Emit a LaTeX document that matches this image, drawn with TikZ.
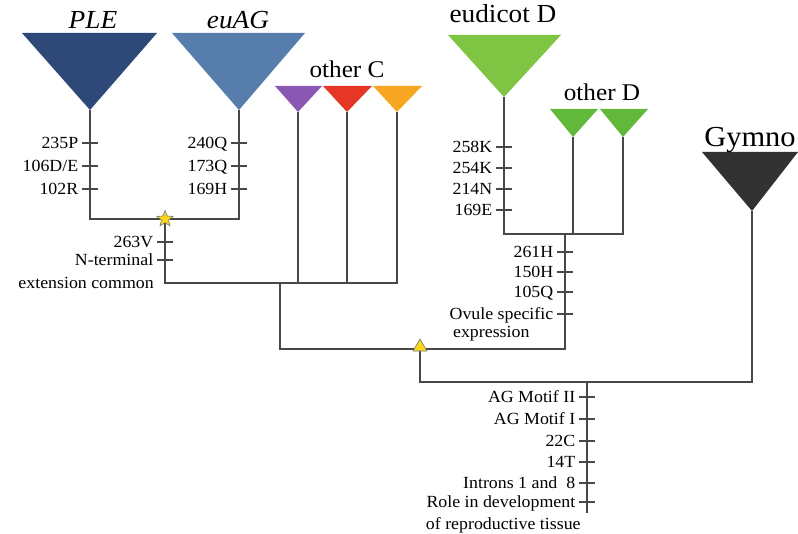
\documentclass[tikz,border=0pt]{standalone}
\usepackage{fontspec}
\setmainfont{Liberation Serif}[FakeStretch=1.05]
\usetikzlibrary{shapes.geometric}

\definecolor{plecol}{RGB}{46,72,120}
\definecolor{euagcol}{RGB}{86,125,172}
\definecolor{purplecol}{RGB}{138,88,178}
\definecolor{redcol}{RGB}{230,55,38}
\definecolor{orangecol}{RGB}{246,166,33}
\definecolor{eudcol}{RGB}{128,196,68}
\definecolor{odcol}{RGB}{98,184,58}
\definecolor{gymcol}{RGB}{50,50,50}
\definecolor{linegray}{RGB}{72,72,72}
\definecolor{markfill}{RGB}{250,215,30}

\begin{document}
\begin{tikzpicture}[x=1pt, y=-1pt,
  branch/.style={draw=linegray, line width=1.5pt, line join=miter},
  tick/.style={draw=linegray, line width=1.5pt},
  clade/.style={font=\fontsize{26}{28}\selectfont, anchor=base, inner sep=0pt},
  smallclade/.style={font=\fontsize{24}{26}\selectfont, anchor=base, inner sep=0pt},
  mut/.style={font=\fontsize{17}{19}\selectfont, anchor=east, inner xsep=3pt,
    inner ysep=0pt, text height=11pt, text depth=0pt},
  starmark/.style={star, star points=5, star point ratio=2.3, fill=markfill,
    draw=black!55, line width=0.6pt, inner sep=0pt, minimum size=17pt},
  trimark/.style={regular polygon, regular polygon sides=3, fill=markfill,
    draw=black!55, line width=0.6pt, inner sep=0pt, minimum size=16pt}
]
  \useasboundingbox (0,0) rectangle (798,534);

  % --- tips of the clades ---
  \coordinate (ple) at (90,110);
  \coordinate (euag) at (239,110);
  \coordinate (cpur) at (298,112);
  \coordinate (cred) at (347,112);
  \coordinate (corg) at (397,112);
  \coordinate (eud) at (504,97);
  \coordinate (odA) at (573,137);
  \coordinate (odB) at (623,137);
  \coordinate (gym) at (752,211);

  % --- joints ---
  \coordinate (jPE) at (165,219);
  \coordinate (jC) at (280,283);
  \coordinate (jD) at (565,234);
  \coordinate (jCD) at (420,349);
  \coordinate (jR) at (587,382);
  \coordinate (rootEnd) at (587,513);

  % --- clade triangles ---
  \fill[plecol] (22,33) -- (157,33) -- (ple) -- cycle;
  \fill[euagcol] (172,33) -- (305,33) -- (euag) -- cycle;
  \fill[purplecol] (275,86) -- (322,86) -- (cpur) -- cycle;
  \fill[redcol] (323,86) -- (372,86) -- (cred) -- cycle;
  \fill[orangecol] (373,86) -- (422,86) -- (corg) -- cycle;
  \fill[eudcol] (448,35) -- (561,35) -- (eud) -- cycle;
  \fill[odcol] (550,109) -- (598,109) -- (odA) -- cycle;
  \fill[odcol] (600,109) -- (648,109) -- (odB) -- cycle;
  \fill[gymcol] (702,152) -- (798,152) -- (gym) -- cycle;

  \node[clade] (lPLE) at (93,29) {\itshape PLE};
  \node[clade] (lEuAG) at (238,29) {\itshape euAG};
  \node[smallclade] (lOtherC) at (347,78) {other C};
  \node[clade] (lEudicot) at (503,23) {eudicot D};
  \node[smallclade] (lOtherD) at (602,101) {other D};
  \node[clade, font=\fontsize{29}{31}\selectfont] (lGymno) at (750,147) {Gymno};

  % --- branches ---
  \draw[branch] (ple) |- (jPE) -| (euag);
  \draw[branch] (jPE) |- (jC);
  \draw[branch] (cpur) |- (jC);
  \draw[branch] (cred) |- (jC);
  \draw[branch] (corg) |- (jC);
  \draw[branch] (eud) |- (jD);
  \draw[branch] (odA) |- (jD);
  \draw[branch] (odB) |- (jD);
  \draw[branch] (jC) |- (jCD);
  \draw[branch] (jD) |- (jCD);
  \draw[branch] (jCD) |- (jR);
  \draw[branch] (gym) |- (jR);
  \draw[branch] (jR) -- (rootEnd);

  % --- character changes ---
  \foreach \y/\t in {143/235P, 166/{106D/E}, 189/102R}
    \draw[tick] (82,\y) -- (98,\y) node[mut, pos=0] (mP\y) {\t};
  \foreach \y/\t in {143/240Q, 166/173Q, 189/169H}
    \draw[tick] (231,\y) -- (247,\y) node[mut, pos=0] (mE\y) {\t};
  \foreach \y/\t in {147/258K, 168/254K, 189/214N, 210/169E}
    \draw[tick] (496,\y) -- (512,\y) node[mut, pos=0] (mD\y) {\t};
  \foreach \y/\t in {252/261H, 272/150H, 292/105Q, 314/Ovule specific}
    \draw[tick] (557,\y) -- (573,\y) node[mut, pos=0] (mOD\y) {\t};
  \foreach \y/\t in {397/AG Motif II, 419/AG Motif I, 441/22C, 462/14T,
      483/{Introns 1 and\ \ 8}, 502/Role in development}
    \draw[tick] (579,\y) -- (595,\y) node[mut, pos=0] (mR\y) {\t};
  \foreach \y/\t in {242/263V, 260/N-terminal}
    \draw[tick] (157,\y) -- (173,\y) node[mut, pos=0] (mPE\y) {\t};

  % second lines
  \node[mut, anchor=base east] (mExt) at ([yshift=-23pt]mPE260.base east) {extension common};
  \node[mut, anchor=base west] (mExpr) at ([yshift=-18pt, xshift=4pt]mOD314.base west) {expression};
  \node[mut, anchor=base west] (mTissue) at ([yshift=-22pt]mR502.base west) {of reproductive tissue};

  % --- markers ---
  \node[starmark] (starPE) at (jPE) {};
  \node[trimark] (triCD) at (420,347) {};
\end{tikzpicture}
\end{document}
